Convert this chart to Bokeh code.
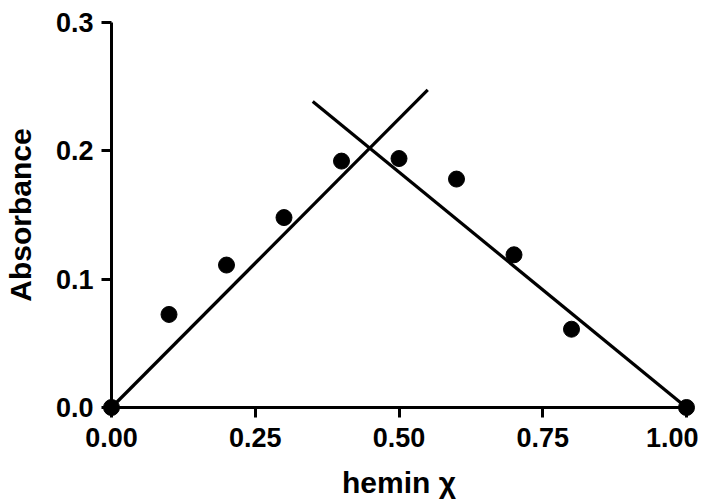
from bokeh.plotting import figure
from bokeh.models import FixedTicker, PrintfTickFormatter, Range1d
from bokeh.embed import file_html
from bokeh.resources import INLINE

# data
chi = [0.0, 0.1, 0.2, 0.3, 0.4, 0.5, 0.6, 0.7, 0.8, 1.0]
absorbance = [0.0, 0.0725, 0.111, 0.148, 0.192, 0.194, 0.178, 0.119, 0.061, 0.0]
fit1_x = [0.0, 0.55]
fit1_y = [0.0, 0.2475]
fit2_x = [0.35, 1.0]
fit2_y = [0.2385, 0.0]
x_ticks = [0.0, 0.25, 0.5, 0.75, 1.0]
y_ticks = [0.0, 0.1, 0.2, 0.3]

FONT = "Liberation Sans"

p = figure(frame_width=575, frame_height=385, min_border_left=106, min_border_top=22,
           min_border_right=12, min_border_bottom=80,
           x_range=Range1d(0, 1), y_range=Range1d(0, 0.3),
           output_backend="svg", toolbar_location=None)
p.outline_line_color = None
p.grid.visible = False

p.line(fit1_x, fit1_y, line_color="black", line_width=3.2, level="overlay")
p.line(fit2_x, fit2_y, line_color="black", line_width=3.2, level="overlay")
p.scatter(chi, absorbance, size=16, fill_color="black", line_color="black", level="overlay")

for ax, ticks, fmt in [(p.xaxis[0], x_ticks, "%.2f"), (p.yaxis[0], y_ticks, "%.1f")]:
    ax.ticker = FixedTicker(ticks=ticks)
    ax.formatter = PrintfTickFormatter(format=fmt)
    ax.axis_line_width = 3
    ax.axis_line_color = "black"
    ax.major_tick_line_width = 3
    ax.major_tick_out = 10
    ax.major_tick_in = 0
    ax.minor_tick_line_color = None
    ax.major_label_text_font = FONT
    ax.major_label_text_font_style = "bold"
    ax.major_label_text_font_size = "27px"
    ax.major_label_text_color = "black"
    ax.axis_label_text_font = FONT
    ax.axis_label_text_font_style = "bold"
    ax.axis_label_text_font_size = "30px"
    ax.axis_label_text_color = "black"

p.xaxis.axis_label = "hemin χ"
p.yaxis.axis_label = "Absorbance"
p.xaxis.major_label_standoff = 10
p.yaxis.major_label_standoff = 8
p.xaxis.axis_label_standoff = 16
p.yaxis.axis_label_standoff = 16

open("out.html", "w").write(file_html(p, INLINE))
